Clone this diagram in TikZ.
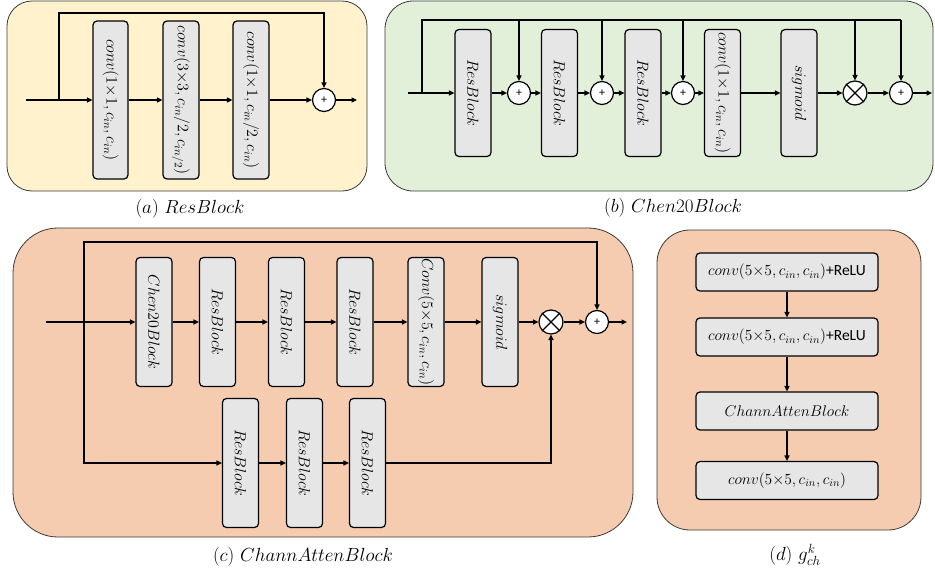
\RequirePackage{fix-cm}
\documentclass[tikz,border=0pt]{standalone}
\usepackage{fontspec}
\newfontfamily\carlito{Carlito}
\usetikzlibrary{arrows.meta}
\definecolor{pa}{HTML}{FFF2CC}
\definecolor{pb}{HTML}{E2F0D9}
\definecolor{pc}{HTML}{F5CCAF}
\definecolor{bg}{HTML}{E6E6E6}
\definecolor{edge}{HTML}{3A3A3A}
\tikzset{
 panel/.style={draw=edge, line width=0.8pt},
 blk/.style={draw=black, line width=1.2pt, fill=bg, rounded corners=4pt, inner sep=0pt, font=\fontsize{16}{18}\selectfont},
 vblk/.style={blk, rotate=-90},
 hblk/.style={blk, minimum width=182pt, minimum height=38pt, font=\fontsize{15.5}{18}\selectfont},
 sumc/.style={circle, draw=black, line width=1.2pt, fill=white, minimum size=23pt, inner sep=0pt, font=\carlito\fontsize{12}{12}\selectfont},
 mulc/.style={circle, draw=black, line width=1.2pt, fill=white, minimum size=24pt, inner sep=0pt},
 wire/.style={line width=1.2pt, draw=black},
 arr/.style={wire, -{Triangle[length=5.5pt,width=5pt]}},
 captxt/.style={font=\fontsize{19}{22}\selectfont, inner sep=0pt}
}
\begin{document}
\begin{tikzpicture}[x=1pt,y=-1pt]
\useasboundingbox (0,0) rectangle (935,573);
% panels
\draw[panel, fill=pa, rounded corners=25pt] (7,1) rectangle (367,191);
\draw[panel, fill=pb, rounded corners=28pt] (385,1) rectangle (933,191);
\draw[panel, fill=pc, rounded corners=45pt] (13,228) rectangle (633,537);
\draw[panel, fill=pc, rounded corners=33pt] (657,230) rectangle (921,530);

% ---------- (a) ResBlock ----------
\node[vblk, minimum width=158pt, minimum height=35pt] (a1) at (110.5,100) {$conv(1{\times}1, c_{in}, c_{in})$};
\node[vblk, minimum width=158pt, minimum height=36pt] (a2) at (181,100) {$conv(3{\times}3, c_{in}/2, c_{in/2})$};
\node[vblk, minimum width=158pt, minimum height=36pt] (a3) at (251,100) {$conv(1{\times}1, c_{in}/2, c_{in})$};
\node[sumc] (ap) at (324,100) {+};
\coordinate (ain) at (26,100);
\coordinate (abr) at (59,100);
\coordinate (aout) at (357,100);
\draw[arr] (ain) -- (a1);
\draw[arr] (a1) -- (a2);
\draw[arr] (a2) -- (a3);
\draw[arr] (a3) -- (ap);
\draw[arr] (ap) -- (aout);
\draw[arr] (abr) -- ++(0,-87) -| (ap);
\node[captxt] (capa) at (190,209) {$(a)\ ResBlock$};

% ---------- (b) Chen20Block ----------
\tikzset{bv/.style={vblk, minimum width=127pt, minimum height=36pt}}
\node[bv] (b1) at (473,93) {$ResBlock$};
\node[sumc] (bp1) at (519,93) {+};
\node[bv] (b2) at (559.5,93) {$ResBlock$};
\node[sumc] (bp2) at (602,93) {+};
\node[bv] (b3) at (643,93) {$ResBlock$};
\node[sumc] (bp3) at (683,93) {+};
\node[bv] (bconv) at (722.5,93) {$conv(1{\times}1, c_{in}, c_{in})$};
\node[bv] (bsig) at (799,93) {$sigmoid$};
\node[mulc] (bx) at (855,93) {};
\draw[wire] (bx.45) -- (bx.225) (bx.135) -- (bx.315);
\node[sumc] (bp4) at (901,93) {+};
\coordinate (bin) at (408,93);
\coordinate (bbr) at (422,93);
\coordinate (btop) at (422,20);
\coordinate (bend) at (901,20);
\coordinate (bout) at (932,93);
\draw[arr] (bin) -- (b1);
\draw[arr] (b1) -- (bp1);
\draw[arr] (bp1) -- (b2);
\draw[arr] (b2) -- (bp2);
\draw[arr] (bp2) -- (b3);
\draw[arr] (b3) -- (bp3);
\draw[arr] (bp3) -- (bconv);
\draw[arr] (bconv) -- (bsig);
\draw[arr] (bsig) -- (bx);
\draw[arr] (bx) -- (bp4);
\draw[arr] (bp4) -- (bout);
\draw[wire] (bbr) -- (btop) -- (bend);
\draw[arr] (bend) -- (bp4);
\draw[arr] (bp1 |- btop) -- (bp1);
\draw[arr] (bp2 |- btop) -- (bp2);
\draw[arr] (bp3 |- btop) -- (bp3);
\draw[arr] (bx |- btop) -- (bx);
\node[captxt] (capb) at (673,208) {$(b)\ Chen20Block$};

% ---------- (c) ChannAttenBlock ----------
\tikzset{cv/.style={vblk, minimum width=129pt, minimum height=36pt}}
\node[cv] (cc20) at (154,322) {$Chen20Block$};
\node[cv] (c1) at (217.5,322) {$ResBlock$};
\node[cv] (c2) at (286.5,322) {$ResBlock$};
\node[cv] (c3) at (355,322) {$ResBlock$};
\node[cv] (cconv) at (426,322) {$Conv(5{\times}5, c_{in}, c_{in})$};
\node[cv] (csig) at (500,322) {$sigmoid$};
\node[mulc] (cx) at (551,322) {};
\draw[wire] (cx.45) -- (cx.225) (cx.135) -- (cx.315);
\node[sumc] (cp) at (597,322) {+};
\node[cv] (cr1) at (240.5,463) {$ResBlock$};
\node[cv] (cr2) at (304.5,463) {$ResBlock$};
\node[cv] (cr3) at (367.5,463) {$ResBlock$};
\coordinate (cin) at (46,322);
\coordinate (cbr) at (84,322);
\coordinate (ctop) at (84,242);
\coordinate (cbot) at (84,463);
\coordinate (cout) at (627,322);
\draw[arr] (cin) -- (cc20);
\draw[arr] (cc20) -- (c1);
\draw[arr] (c1) -- (c2);
\draw[arr] (c2) -- (c3);
\draw[arr] (c3) -- (cconv);
\draw[arr] (cconv) -- (csig);
\draw[arr] (csig) -- (cx);
\draw[arr] (cx) -- (cp);
\draw[arr] (cp) -- (cout);
\draw[arr] (cbr) -- (ctop) -| (cp);
\draw[arr] (cbr) -- (cbot) -- (cr1);
\draw[arr] (cr1) -- (cr2);
\draw[arr] (cr2) -- (cr3);
\draw[arr] (cr3) -| (cx);
\node[captxt] (capc) at (303,557) {$(c)\ ChannAttenBlock$};

% ---------- (d) g_ch^k ----------
\node[hblk] (d1) at (787,272) {$conv(5{\times}5, c_{in}, c_{in})${\carlito +ReLU}};
\node[hblk] (d2) at (787,337) {$conv(5{\times}5, c_{in}, c_{in})${\carlito +ReLU}};
\node[hblk] (d3) at (787,411) {$ChannAttenBlock$};
\node[hblk] (d4) at (787,480.5) {$conv(5{\times}5, c_{in}, c_{in})$};
\draw[arr] (d1) -- (d2);
\draw[arr] (d2) -- (d3);
\draw[arr] (d3) -- (d4);
\node[captxt] (capd) at (795,555) {$(d)\ g_{ch}^{k}$};
\end{tikzpicture}
\end{document}
